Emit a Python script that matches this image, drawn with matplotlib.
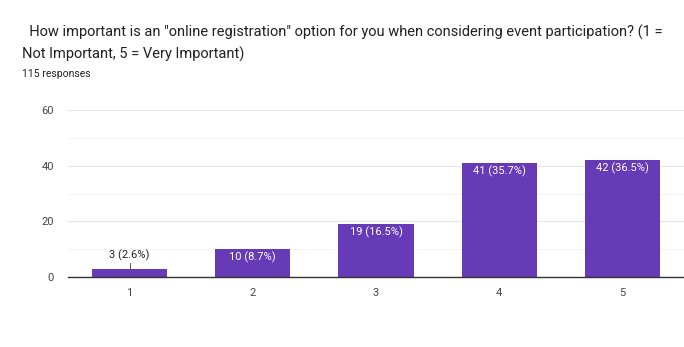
import matplotlib.pyplot as plt
from matplotlib.ticker import MultipleLocator

plt.rcParams['font.family'] = ['Roboto', 'DejaVu Sans']

categories = ['1', '2', '3', '4', '5']
counts = [3, 10, 19, 41, 42]
percents = [2.6, 8.7, 16.5, 35.7, 36.5]
total = 115

purple = '#673ab7'

fig = plt.figure(figsize=(6.84, 3.47), dpi=100)
ax = fig.add_axes([68 / 684, 70 / 347, 616 / 684, 167 / 347])

xs = range(1, len(categories) + 1)
ax.bar(xs, counts, width=0.61, color=purple, zorder=3)

ax.set_xlim(0.5, 5.5)
ax.set_ylim(0, 60)
ax.yaxis.set_major_locator(MultipleLocator(20))
ax.yaxis.set_minor_locator(MultipleLocator(10))
ax.set_xticks(list(xs))
ax.set_xticklabels(categories)
ax.grid(axis='y', which='major', color='#e6e6e6', lw=0.8, zorder=0)
ax.grid(axis='y', which='minor', color='#f4f4f4', lw=0.8, zorder=0)
ax.tick_params(axis='both', which='both', length=0, colors='#444444', labelsize=8)
ax.tick_params(axis='x', pad=8)
ax.tick_params(axis='y', pad=10)

for side in ['left', 'right', 'top']:
    ax.spines[side].set_visible(False)
ax.spines['bottom'].set_color('#333333')
ax.spines['bottom'].set_linewidth(1)
ax.spines['bottom'].set_zorder(4)

for x, c, p in zip(xs, counts, percents):
    label = f'{c} ({p}%)'
    if c < 8:
        # small bar: label sits above with a short leader line
        ax.plot([x, x], [c, c + 2.2], color='#555555', lw=0.7, zorder=4)
        ax.text(x, c + 2.6, label, ha='center', va='bottom', fontsize=8, color='#222222')
    else:
        ax.text(x, c - 1.0, label, ha='center', va='top', fontsize=8, color='white', zorder=5)

fig.text(22 / 684, 1 - 32 / 347,
         '  How important is an "online registration" option for you when considering event participation? (1 =',
         fontsize=10.5, color='#202124', va='center', ha='left')
fig.text(22 / 684, 1 - 54 / 347, 'Not Important, 5 = Very Important)',
         fontsize=10.5, color='#202124', va='center', ha='left')
fig.text(22 / 684, 1 - 74 / 347, f'{total} responses',
         fontsize=7.5, color='#202124', va='center', ha='left')

fig.savefig('out.png', dpi=100, facecolor='white')
